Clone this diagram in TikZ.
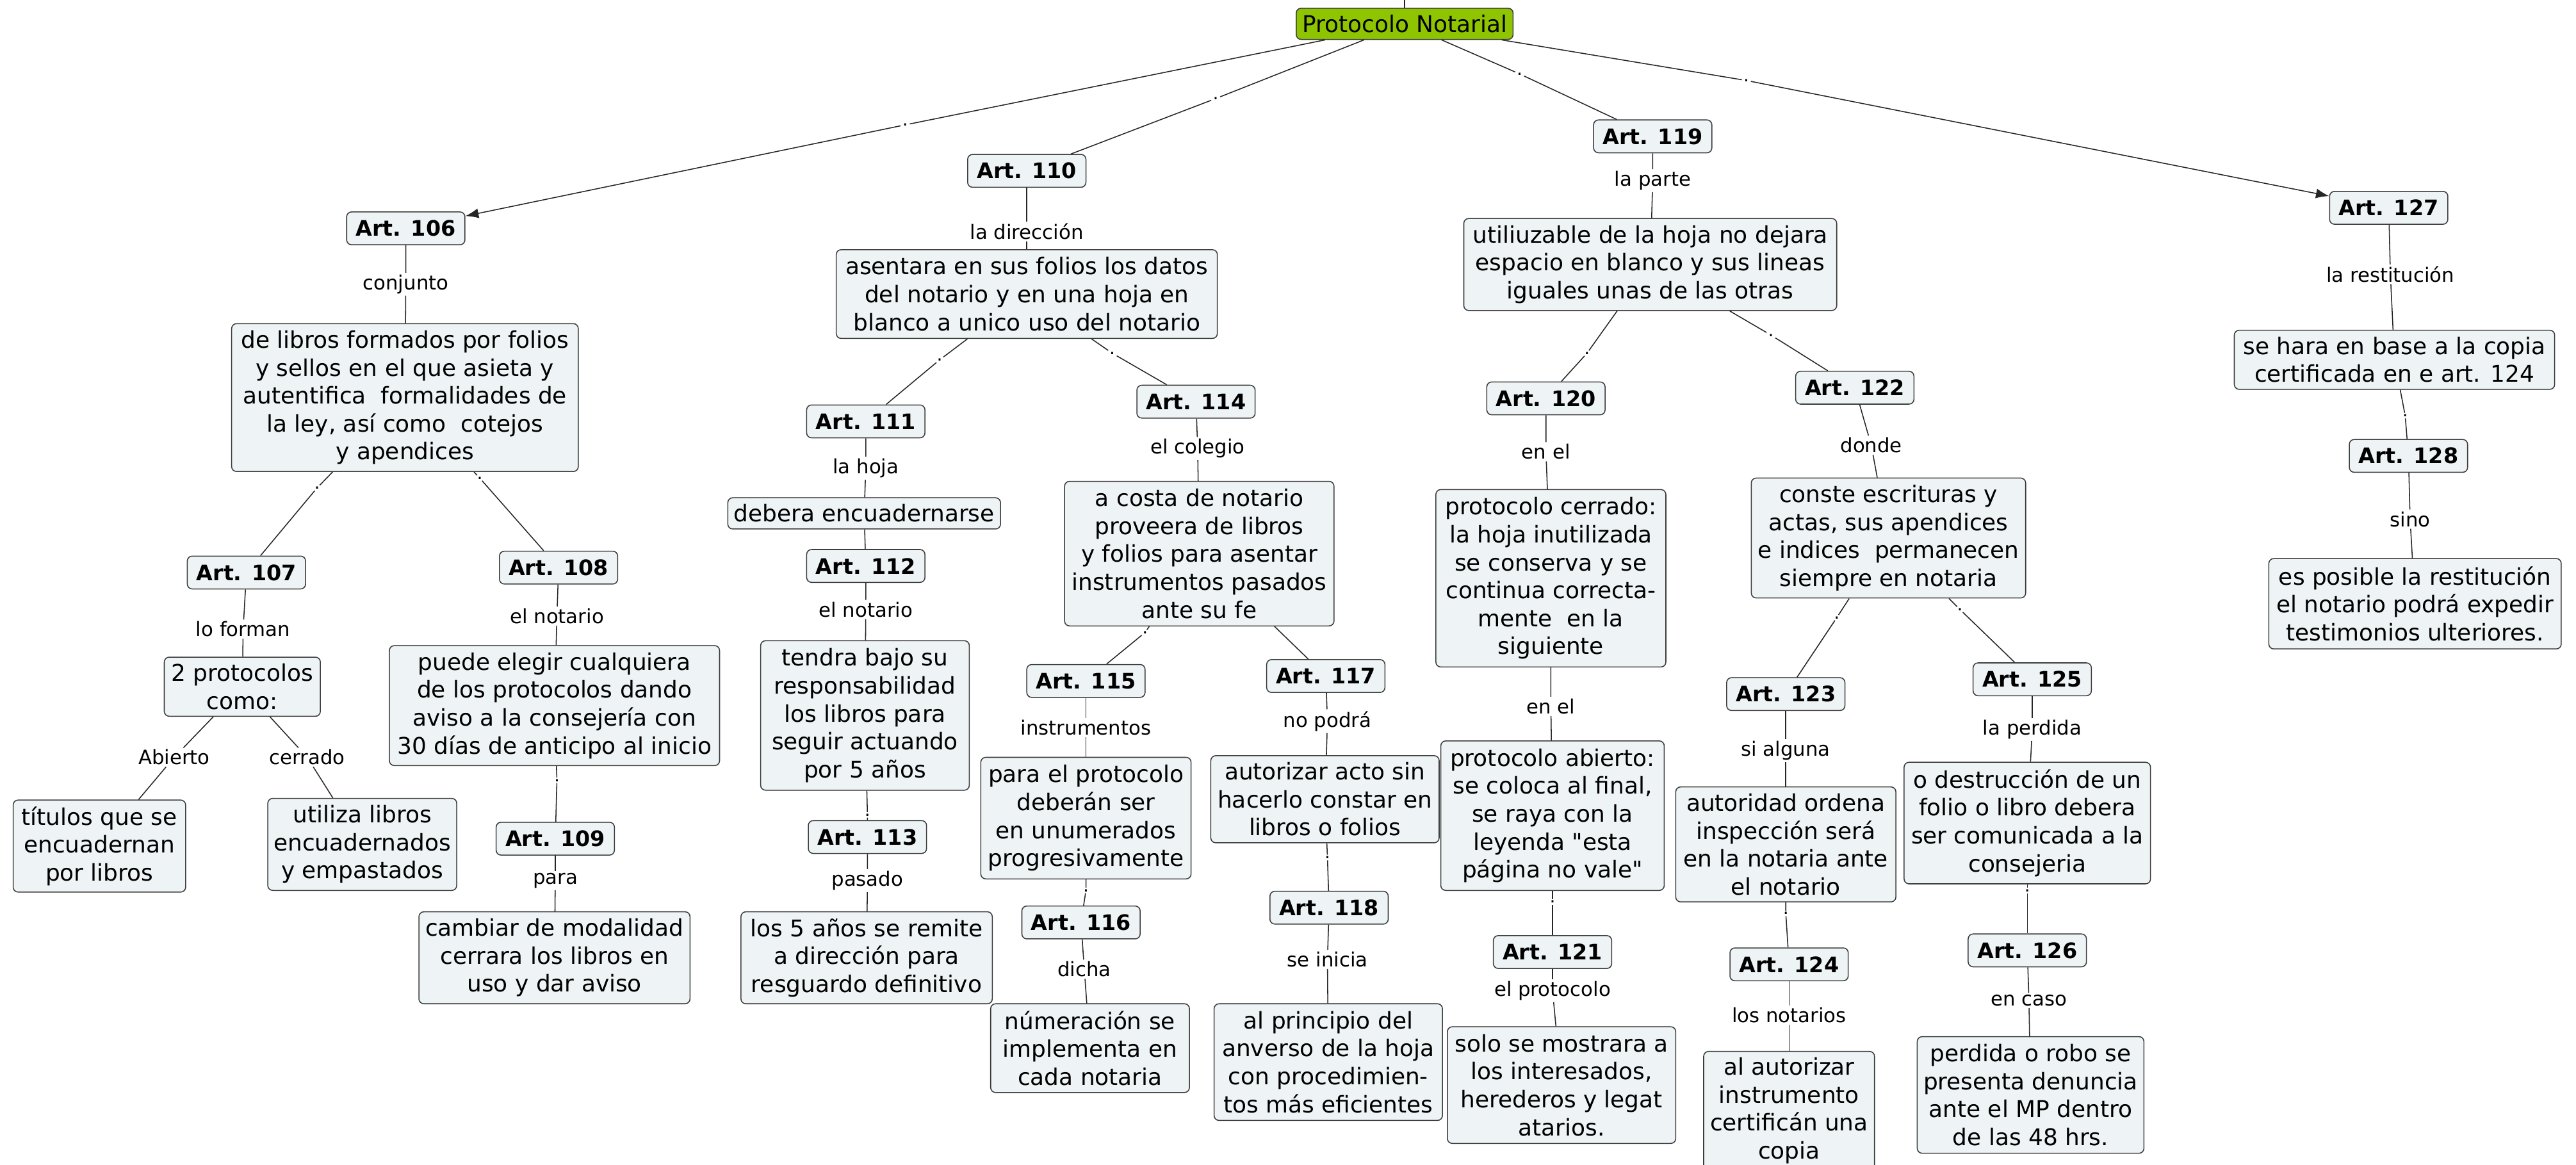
\documentclass[tikz,border=0pt]{standalone}
\usepackage{fontspec}
\setmainfont{DejaVu Sans}
\usetikzlibrary{arrows.meta}

\definecolor{cfill}{RGB}{238,244,246}
\definecolor{rootgreen}{RGB}{143,196,0}
\definecolor{cline}{RGB}{60,60,60}

\tikzset{
	concept/.style={draw=cline, fill=cfill, rounded corners=3pt, align=center, inner sep=2pt, line width=0.6pt, font=\fontsize{14}{17}\selectfont},
	art/.style={concept, minimum width=72pt, minimum height=20pt, font=\bfseries\fontsize{13}{15}\selectfont},
	lbl/.style={fill=white, inner sep=1pt, font=\fontsize{12}{14}\selectfont},
	dotlbl/.style={fill=white, inner sep=0.8pt, font=\fontsize{11}{12}\selectfont},
	link/.style={draw=black!85, line width=0.6pt},
	tip/.style={-{Latex[length=8pt,width=6pt]}}
}

\begin{document}
\begin{tikzpicture}[x=1pt, y=-1pt]
	\useasboundingbox (0,0) rectangle (1568,709);

	\node[concept, fill=rootgreen, minimum width=132pt, minimum height=19pt] (root) at (855,14.5) {Protocolo Notarial};
	\coordinate (up) at (855,0);

	% articulos
	\node[art] (a106) at (247,139) {Art. 106};
	\node[art] (a107) at (150,348.5) {Art. 107};
	\node[art] (a108) at (340,345.5) {Art. 108};
	\node[art] (a109) at (338,510.5) {Art. 109};
	\node[art] (a110) at (625,104) {Art. 110};
	\node[art] (a111) at (527,256.5) {Art. 111};
	\node[art] (a112) at (527,344.5) {Art. 112};
	\node[art] (a113) at (528,509.5) {Art. 113};
	\node[art] (a114) at (728,244.5) {Art. 114};
	\node[art] (a115) at (661,414.5) {Art. 115};
	\node[art] (a116) at (658,561.5) {Art. 116};
	\node[art] (a117) at (807,411.5) {Art. 117};
	\node[art] (a118) at (809,552.5) {Art. 118};
	\node[art] (a119) at (1006,83) {Art. 119};
	\node[art] (a120) at (941,242.5) {Art. 120};
	\node[art] (a121) at (945,579.5) {Art. 121};
	\node[art] (a122) at (1129,236) {Art. 122};
	\node[art] (a123) at (1087,422.5) {Art. 123};
	\node[art] (a124) at (1089,587) {Art. 124};
	\node[art] (a125) at (1237,413.5) {Art. 125};
	\node[art] (a126) at (1234,578.5) {Art. 126};
	\node[art] (a127) at (1454,126.5) {Art. 127};
	\node[art] (a128) at (1466,277.5) {Art. 128};

	% contenidos
	\node[concept, minimum width=211pt, minimum height=90pt] (c106) at (246.5,242) {de libros formados por folios\\y sellos en el que asieta y\\autentifica~ formalidades de\\la ley, así como~ cotejos\\y apendices};
	\node[concept, minimum width=95pt, minimum height=36pt] (c107) at (147.5,418) {2 protocolos\\como:};
	\node[concept, minimum width=105pt, minimum height=56pt] (cab) at (60.5,515) {títulos que se\\encuadernan\\por libros};
	\node[concept, minimum width=115pt, minimum height=56pt] (cce) at (220.5,514) {utiliza libros\\encuadernados\\y empastados};
	\node[concept, minimum width=201pt, minimum height=73pt] (c108) at (337.5,429.5) {puede elegir cualquiera\\de los protocolos dando\\aviso a la consejería con\\30 días de anticipo al inicio};
	\node[concept, minimum width=165pt, minimum height=56pt] (c109) at (337.5,583) {cambiar de modalidad\\cerrara los libros en\\uso y dar aviso};
	\node[concept, minimum width=232pt, minimum height=54pt] (c110) at (625,179) {asentara en sus folios los datos\\del notario y en una hoja en\\blanco a unico uso del notario};
	\node[concept, minimum width=166pt, minimum height=19pt] (c111) at (526,312.5) {debera encuadernarse};
	\node[concept, minimum width=127pt, minimum height=91pt] (c112) at (526.5,435.5) {tendra bajo su\\responsabilidad\\los libros para\\seguir actuando\\por 5 años};
	\node[concept, minimum width=153pt, minimum height=56pt] (c113) at (527.5,583) {los 5 años se remite\\a dirección para\\resguardo definitivo};
	\node[concept, minimum width=164pt, minimum height=88pt] (c114) at (730,337) {a costa de notario\\proveera de libros\\y folios para asentar\\instrumentos pasados\\ante su fe};
	\node[concept, minimum width=128pt, minimum height=74pt] (c115) at (661,498) {para el protocolo\\deberán ser\\en unumerados\\progresivamente};
	\node[concept, minimum width=121pt, minimum height=54pt] (c116) at (663.5,638) {númeración se\\implementa en\\cada notaria};
	\node[concept, minimum width=139pt, minimum height=53pt] (c117) at (806.5,486.5) {autorizar acto sin\\hacerlo constar en\\libros o folios};
	\node[concept, minimum width=139pt, minimum height=71pt] (c118) at (808.5,646.5) {al principio del\\anverso de la hoja\\con procedimien-\\tos más eficientes};
	\node[concept, minimum width=227pt, minimum height=56pt] (c119) at (1004.5,161) {utiliuzable de la hoja no dejara\\espacio en blanco y sus lineas\\iguales unas de las otras};
	\node[concept, minimum width=140pt, minimum height=108pt] (c120) at (944,352) {protocolo cerrado:\\la hoja inutilizada\\se conserva y se\\continua correcta-\\mente~ en la\\siguiente};
	\node[concept, minimum width=136pt, minimum height=91pt] (c120ab) at (945,496.5) {protocolo abierto:\\se coloca al final,\\se raya con la\\leyenda \textquotedbl esta\\página no vale\textquotedbl};
	\node[concept, minimum width=139pt, minimum height=71pt] (c121) at (950.5,660.5) {solo se mostrara a\\los interesados,\\herederos y legat\\atarios.};
	\node[concept, minimum width=167pt, minimum height=73pt] (c122) at (1149.5,327.5) {conste escrituras y\\actas, sus apendices\\e indices~ permanecen\\siempre en notaria};
	\node[concept, minimum width=134pt, minimum height=70pt] (c123) at (1087,514) {autoridad ordena\\inspección será\\en la notaria ante\\el notario};
	\node[concept, minimum width=104pt, minimum height=72pt] (c124) at (1089,676) {al autorizar\\instrumento\\certificán una\\copia};
	\node[concept, minimum width=150pt, minimum height=74pt] (c125) at (1234,501) {o destrucción de un\\folio o libro debera\\ser comunicada a la\\consejeria};
	\node[concept, minimum width=138pt, minimum height=71pt] (c126) at (1236,666.5) {perdida o robo se\\presenta denuncia\\ante el MP dentro\\de las 48 hrs.};
	\node[concept, minimum width=195pt, minimum height=36pt] (c127) at (1457.5,219) {se hara en base a la copia\\certificada en e art. 124};
	\node[concept, minimum width=178pt, minimum height=55pt] (c128) at (1470,367.5) {es posible la restitución\\el notario podrá expedir\\testimonios ulteriores.};

	% frases de enlace
	\node[lbl] (l106) at (247,173) {conjunto};
	\node[lbl] (l107) at (148,383) {lo forman};
	\node[lbl] (lab) at (106,461) {Abierto};
	\node[lbl] (lce) at (187,461) {cerrado};
	\node[lbl] (l108) at (339,375) {el notario};
	\node[lbl] (l109) at (338,536) {para};
	\node[lbl] (l110) at (625,141) {la dirección};
	\node[lbl] (l111) at (527,285) {la hoja};
	\node[lbl] (l112) at (527,371) {el notario};
	\node[lbl] (l113) at (528,536) {pasado};
	\node[lbl] (l114) at (729,273) {el colegio};
	\node[lbl] (l115) at (661,443) {instrumentos};
	\node[lbl] (l116) at (660,590) {dicha};
	\node[lbl] (l117) at (808,439) {no podrá};
	\node[lbl] (l118) at (808,584) {se inicia};
	\node[lbl] (l119) at (1006,110) {la parte};
	\node[lbl] (l120) at (941,275) {en el};
	\node[lbl] (l120b) at (944,430) {en el};
	\node[lbl] (l121) at (945,603) {el protocolo};
	\node[lbl] (l122) at (1139,271) {donde};
	\node[lbl] (l123) at (1087,457) {si alguna};
	\node[lbl] (l124) at (1089,618) {los notarios};
	\node[lbl] (l125) at (1237,444) {la perdida};
	\node[lbl] (l126) at (1235,609) {en caso};
	\node[lbl] (l127) at (1455,167) {la restitución};
	\node[lbl] (l128) at (1467,316) {sino};

	\node[dotlbl] (p1) at (551,76) {.};
	\node[dotlbl] (p2) at (740,60) {.};
	\node[dotlbl] (p3) at (925,45) {.};
	\node[dotlbl] (p4) at (1063,49) {.};
	\node[dotlbl] (p5) at (193,297) {.};
	\node[dotlbl] (p6) at (292,291) {.};
	\node[dotlbl] (p7) at (339,475) {.};
	\node[dotlbl] (p8) at (572,219) {.};
	\node[dotlbl] (p9) at (677,215) {.};
	\node[dotlbl] (p10) at (528,496) {.};
	\node[dotlbl] (p11) at (697,385) {.};
	\node[dotlbl] (p12) at (661,542) {.};
	\node[dotlbl] (p13) at (808,522) {.};
	\node[dotlbl] (p14) at (966,215) {.};
	\node[dotlbl] (p15) at (1078,204) {.};
	\node[dotlbl] (p16) at (945,549) {.};
	\node[dotlbl] (p17) at (1118,376) {.};
	\node[dotlbl] (p18) at (1193,371) {.};
	\node[dotlbl] (p19) at (1087,556) {.};
	\node[dotlbl] (p20) at (1234,542) {.};
	\node[dotlbl] (p21) at (1464,253) {.};

	% conexiones
	\draw[link] (root) -- (up);
	\draw[link,tip] (root) -- (p1) (p1) -- (a106);
	\draw[link,tip] (root) -- (p4) (p4) -- (a127);
	\foreach \a/\l/\b in {root/p2/a110, root/p3/a119,
		a106/l106/c106, c106/p5/a107, c106/p6/a108, a107/l107/c107, c107/lab/cab, c107/lce/cce,
		a108/l108/c108, c108/p7/a109, a109/l109/c109,
		a110/l110/c110, c110/p8/a111, c110/p9/a114, a111/l111/c111, a112/l112/c112, c112/p10/a113, a113/l113/c113,
		a114/l114/c114, c114/p11/a115, a115/l115/c115, c115/p12/a116, a116/l116/c116,
		a117/l117/c117, c117/p13/a118, a118/l118/c118,
		a119/l119/c119, c119/p14/a120, c119/p15/a122, a120/l120/c120, c120/l120b/c120ab, c120ab/p16/a121, a121/l121/c121,
		a122/l122/c122, c122/p17/a123, c122/p18/a125, a123/l123/c123, c123/p19/a124, a124/l124/c124,
		a125/l125/c125, c125/p20/a126, a126/l126/c126,
		a127/l127/c127, c127/p21/a128, a128/l128/c128}
		\draw[link] (\a) -- (\l) (\l) -- (\b);
	\draw[link] (c111) -- (a112);
	\draw[link] (c114) -- (a117);
\end{tikzpicture}
\end{document}
